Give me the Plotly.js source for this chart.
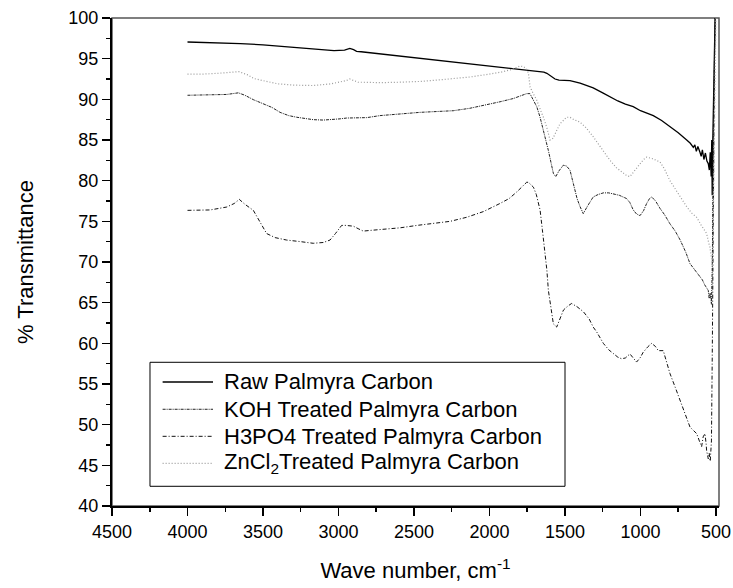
<!DOCTYPE html>
<html>
<head>
<meta charset="utf-8">
<script src="https://cdn.plot.ly/plotly-3.0.1.min.js"></script>
<style>html,body{margin:0;padding:0;background:#fff;}#chart{width:733px;height:588px;}</style>
</head>
<body>
<div id="chart"></div>
<script>
// ---- Data (wave number in cm^-1, % transmittance) ----
const seriesNames = ["Raw Palmyra Carbon", "KOH Treated Palmyra Carbon", "H3PO4 Treated Palmyra Carbon", "ZnCl<sub>2</sub>Treated Palmyra Carbon"];

const rawWave = [4000,3800,3650,3500,3400,3200,3030,2960,2925,2900,2880,2850,2800,2725,2600,2460,2300,2130,2000,1900,1800,1720,1665,1640,1620,1595,1566,1540,1511,1467,1400,1313,1250,1202,1150,1100,1048,1000,960,915,860,805,750,694,670,650,640,630,620,606,598,590,580,570,560,551,544,538,532,528,525,522,518,514,510,505,500];
const rawT    = [97.05,96.95,96.85,96.7,96.55,96.3,96.0,96.05,96.25,96.1,95.9,95.85,95.75,95.6,95.35,95.0,94.75,94.4,94.15,93.95,93.7,93.55,93.45,93.35,93.2,92.9,92.5,92.35,92.3,92.3,92.0,91.4,90.8,90.3,89.8,89.4,89.1,88.6,88.3,88.0,87.4,86.7,85.9,85.0,84.6,84.1,84.4,83.6,84.2,83.5,83.0,83.8,82.6,83.4,82.4,82.1,81.3,83.5,80.5,85.0,78.2,84.0,90.0,96.0,100.5,101,101];

const kohWave = [4000,3850,3740,3663,3620,3564,3498,3440,3387,3330,3277,3220,3167,3100,3034,2990,2946,2880,2813,2725,2600,2460,2350,2240,2130,2019,1930,1842,1790,1754,1732,1710,1687,1665,1643,1620,1610,1590,1577,1561,1540,1511,1490,1467,1445,1420,1400,1379,1350,1313,1280,1246,1210,1180,1140,1092,1070,1048,1026,1003,980,959,940,926,900,871,840,805,770,737,700,672,640,606,590,575,560,551,545,538,530,524,518,512,505,500];
const kohT    = [90.5,90.55,90.6,90.8,90.5,89.96,89.5,89.0,88.4,88.0,87.8,87.6,87.5,87.45,87.5,87.6,87.7,87.7,87.75,88.0,88.2,88.4,88.5,88.6,88.9,89.3,89.7,90.1,90.4,90.7,90.7,90.0,89.1,87.8,86.2,84.8,83.7,82.0,80.9,80.5,81.2,81.9,81.8,81.3,79.6,77.8,76.8,75.95,76.9,78.0,78.3,78.5,78.5,78.4,78.2,77.8,77.3,76.4,75.9,75.7,76.3,77.2,77.8,78.0,77.5,76.6,75.8,74.7,73.8,72.7,71.2,69.8,69.0,68.2,67.8,67.2,66.8,66.5,65.5,66.2,64.8,70,85,95,100.5,101];

const h3po4Wave = [4000,3850,3740,3690,3657,3620,3564,3520,3476,3420,3344,3250,3167,3100,3056,3020,2990,2979,2950,2901,2870,2836,2780,2725,2593,2480,2372,2260,2151,2040,1930,1870,1820,1780,1754,1742,1709,1690,1665,1650,1632,1620,1610,1590,1577,1555,1535,1510,1480,1456,1420,1379,1340,1313,1290,1246,1210,1180,1150,1125,1100,1070,1050,1026,1003,982,950,926,900,882,849,830,805,770,738,700,672,650,628,610,595,585,573,565,562,551,545,538,530,524,518,510,505,500];
const h3po4T    = [76.35,76.4,76.76,77.2,77.7,77.1,76.35,75.0,73.5,73.0,72.7,72.5,72.3,72.4,72.7,73.5,74.3,74.5,74.5,74.4,74.1,73.8,73.9,74.0,74.2,74.5,74.7,75.0,75.5,76.2,77.2,77.8,78.6,79.3,79.8,79.8,79.2,78.3,76.4,74.0,71.4,69.0,66.5,63.8,62.4,62.0,63.0,64.1,64.6,64.9,64.5,63.9,63.0,62.0,61.4,60.0,59.2,58.7,58.3,58.1,58.2,58.7,58.2,57.7,58.2,58.9,59.6,60.0,59.6,59.1,59.1,58.0,56.3,54.6,53.0,51.2,49.7,49.3,48.9,48.0,47.3,48.5,48.9,47.6,46.8,45.8,46.5,45.5,48,60,80,95,100.5,101];

const zncl2Wave = [4000,3900,3800,3700,3660,3600,3560,3500,3400,3300,3170,3050,2990,2950,2925,2900,2870,2836,2780,2725,2600,2460,2300,2130,2000,1909,1850,1798,1772,1750,1742,1731,1710,1687,1665,1643,1620,1599,1580,1555,1533,1511,1490,1467,1440,1401,1360,1313,1260,1202,1160,1114,1090,1070,1040,1003,980,959,920,871,840,805,750,694,660,628,600,580,562,550,540,530,525,520,515,510,505,500];
const zncl2T    = [93.1,93.1,93.2,93.3,93.4,93.0,92.55,92.3,91.9,91.75,91.7,91.9,92.1,92.3,92.5,92.3,92.1,92.1,92.05,92.05,92.1,92.2,92.45,92.75,93.1,93.4,93.7,94.1,94.0,93.6,93.2,91.5,90.7,89.9,88.8,87.8,86.5,85.0,85.2,86.2,87.0,87.4,87.8,87.8,87.5,87.2,86.5,85.4,84.0,82.5,81.6,80.9,80.6,80.5,81.2,82.1,82.6,82.9,82.7,82.3,81.4,80.0,78.4,76.8,76.0,75.5,74.6,74.0,73.5,72.5,71.8,70.5,69.5,72.0,80.0,90.0,100.5,101];

const xTickVals = [4500,4000,3500,3000,2500,2000,1500,1000,500];
const yTickVals = [40,45,50,55,60,65,70,75,80,85,90,95,100];

const FONT = "Liberation Sans, Arial, Helvetica, sans-serif";

const lineStyles = [
  {color: "#000000", width: 1.3, dash: "solid"},
  {color: "#222222", width: 1, dash: "3px,1px,1px,1px"},
  {color: "#111111", width: 1, dash: "4px,2px,1px,2px"},
  {color: "#9a9a9a", width: 1.2, dash: "1px,2px"}
];

const xs = [rawWave, kohWave, h3po4Wave, zncl2Wave];
const ys = [rawT, kohT, h3po4T, zncl2T];

const traces = xs.map((x, i) => ({
  x: x, y: ys[i], name: seriesNames[i], mode: "lines",
  line: lineStyles[i], showlegend: false
}));

// Manual legend (box + line samples + labels), in paper coordinates
const legBox = {x0: 0.0626, x1: 0.7463, y0: 0.0404, y1: 0.2945};
const legRowY = [0.2541, 0.1982, 0.1428, 0.0875];
const legLineX = [0.0834, 0.1664];
const legTextX = 0.1812;

const shapes = [
  {type: "rect", xref: "paper", yref: "paper", x0: 0, x1: 1, y0: 0, y1: 1,
   line: {color: "#555", width: 1.5}, fillcolor: "rgba(0,0,0,0)", layer: "below"},
  {type: "rect", xref: "paper", yref: "paper", x0: legBox.x0, x1: legBox.x1, y0: legBox.y0, y1: legBox.y1,
   line: {color: "#000", width: 1}, fillcolor: "rgba(0,0,0,0)", layer: "above"}
];
const annotations = [];
seriesNames.forEach((name, i) => {
  shapes.push({type: "line", xref: "paper", yref: "paper",
    x0: legLineX[0], x1: legLineX[1], y0: legRowY[i], y1: legRowY[i],
    line: lineStyles[i], layer: "above"});
  annotations.push({xref: "paper", yref: "paper", x: legTextX, y: legRowY[i],
    xanchor: "left", yanchor: "middle", showarrow: false, text: name,
    font: {family: FONT, size: 22, color: "#000"}});
});

const layout = {
  width: 733, height: 588,
  margin: {l: 112, r: 14, t: 18, b: 82, pad: 0},
  paper_bgcolor: "#ffffff", plot_bgcolor: "#ffffff",
  font: {family: FONT, size: 18, color: "#000"},
  showlegend: false,
  xaxis: {
    range: [4500, 480], autorange: false,
    tickmode: "array", tickvals: xTickVals, ticktext: xTickVals.map(String),
    ticks: "outside", ticklen: 8, tickwidth: 1.5, tickcolor: "#000",
    minor: {ticks: "outside", ticklen: 4, tickwidth: 1.5, dtick: 250, tick0: 500, tickcolor: "#000", showgrid: false},
    showline: true, linewidth: 2, linecolor: "#000",
    showgrid: false, zeroline: false,
    tickfont: {family: FONT, size: 18, color: "#000"},
    title: {text: "Wave number, cm<sup>-1</sup>", font: {family: FONT, size: 22, color: "#000"}, standoff: 22}
  },
  yaxis: {
    range: [40, 100], autorange: false,
    tickmode: "array", tickvals: yTickVals, ticktext: yTickVals.map(String),
    ticks: "outside", ticklen: 8, tickwidth: 1.5, tickcolor: "#000",
    minor: {ticks: "outside", ticklen: 4, tickwidth: 1.5, dtick: 2.5, tick0: 40, tickcolor: "#000", showgrid: false},
    showline: true, linewidth: 2, linecolor: "#000",
    showgrid: false, zeroline: false,
    tickfont: {family: FONT, size: 18, color: "#000"},
    title: {text: "% Transmittance", font: {family: FONT, size: 22, color: "#000"}, standoff: 29}
  },
  shapes: shapes,
  annotations: annotations
};

Plotly.newPlot("chart", traces, layout, {displayModeBar: false, staticPlot: true});
</script>
</body>
</html>
